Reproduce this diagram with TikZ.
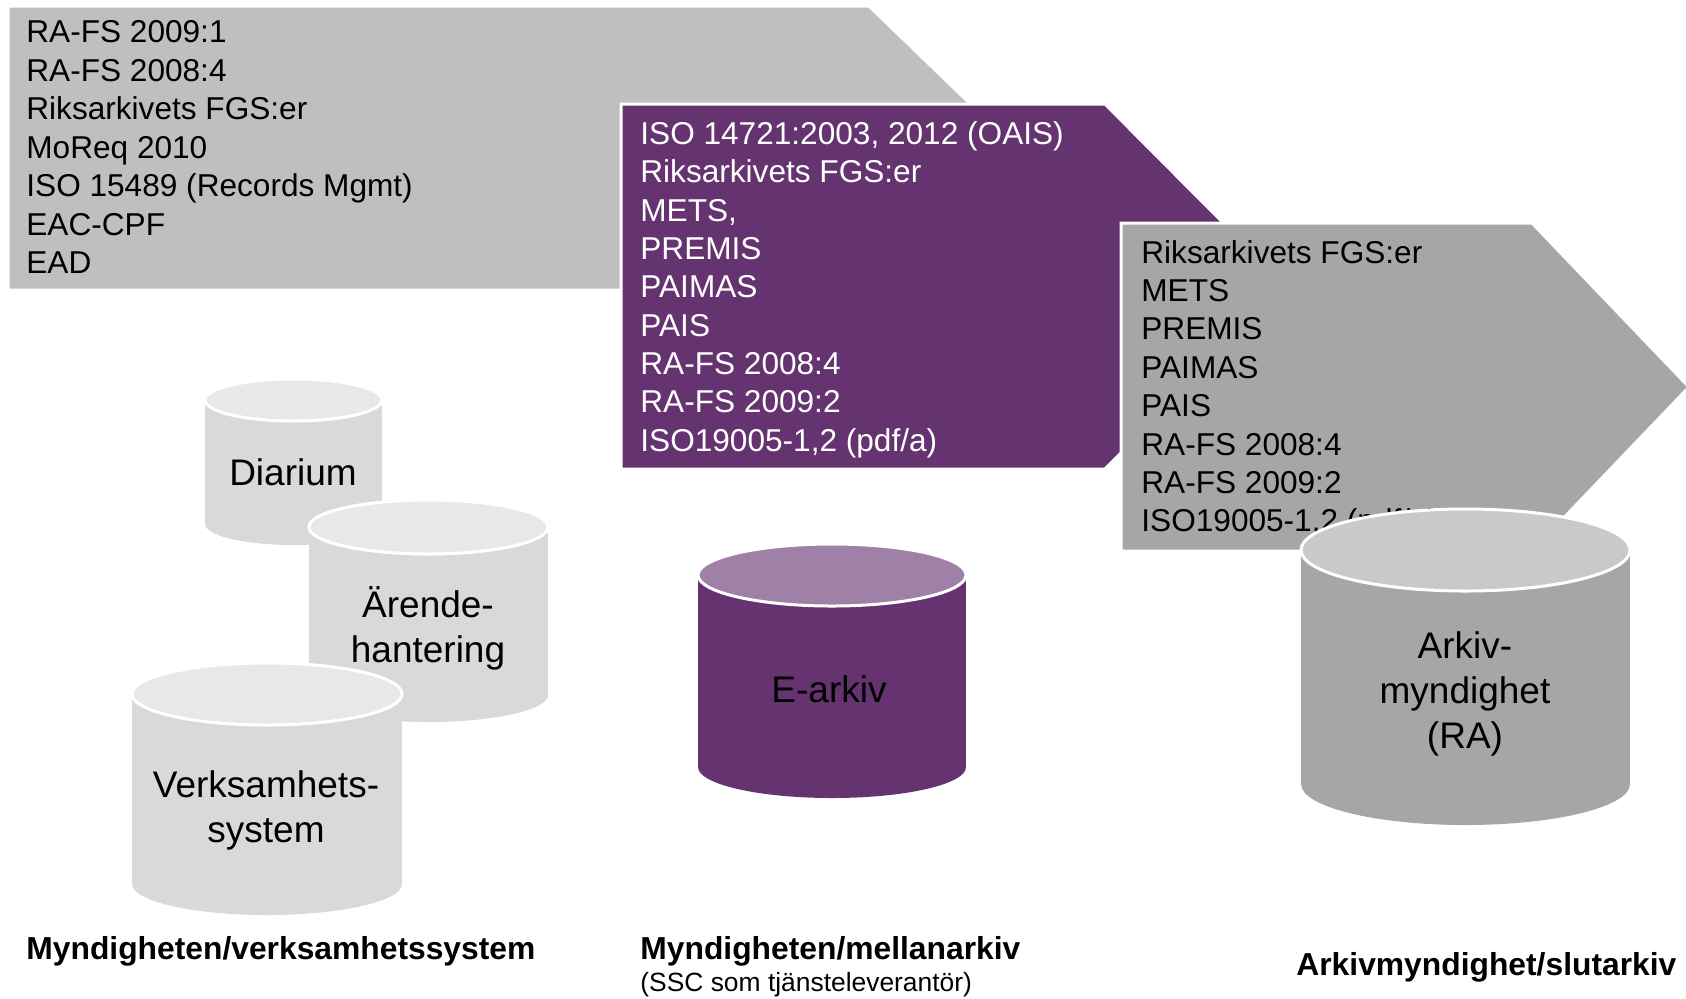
\documentclass[tikz,border=0pt]{standalone}
\usepackage{fontspec}
\setmainfont{Liberation Sans}
\definecolor{lgray}{RGB}{191,191,191}
\definecolor{dgray}{RGB}{166,166,166}
\definecolor{plum}{RGB}{101,51,111}
\definecolor{plumtop}{RGB}{159,128,167}
\definecolor{cylgray}{RGB}{217,217,217}
\definecolor{cyltop}{RGB}{232,232,232}
\definecolor{ratop}{RGB}{201,201,201}

\begin{document}
\begin{tikzpicture}[x=0.5pt, y=-0.5pt]
\tikzstyle{arr}=[draw=white, line width=1.5pt, line join=miter]
\tikzstyle{lst}=[anchor=base west, inner sep=0pt, font=\fontsize{15.8}{19}\selectfont]
\tikzstyle{cyl}=[inner sep=0pt, align=center, font=\fontsize{18.5}{22.5}\selectfont]
\tikzstyle{ttl}=[anchor=base west, inner sep=0pt, font=\fontsize{15.9}{19}\selectfont\bfseries]
\useasboundingbox (0,0) rectangle (1686,998);

% standards, step 1
\path[arr, fill=lgray] (8,6) -- (869,6) -- (1016,148) -- (869,290) -- (8,290) -- cycle;
\foreach \t [count=\i] in {RA-FS 2009:1, RA-FS 2008:4, Riksarkivets FGS:er, MoReq 2010,
    ISO 15489 (Records Mgmt), EAC-CPF, EAD}
  \node[lst] (a\i) at (26, 4+38.5*\i) {\t};

% standards, step 2
\path[arr, fill=plum] (621,104) -- (1105,104) -- (1287,287) -- (1105,469) -- (621,469) -- cycle;
\foreach \t [count=\i] in {{ISO 14721:2003, 2012 (OAIS)}, Riksarkivets FGS:er, {METS,}, PREMIS,
    PAIMAS, PAIS, RA-FS 2008:4, RA-FS 2009:2, {ISO19005-1,2 (pdf/a)}}
  \node[lst, text=white] (b\i) at (640, 106.3+38.3*\i) {\t};

% standards, step 3
\path[arr, fill=dgray] (1121,223) -- (1532,223) -- (1689,387) -- (1532,551) -- (1121,551) -- cycle;
\foreach \t [count=\i] in {Riksarkivets FGS:er, METS, PREMIS, PAIMAS, PAIS, RA-FS 2008:4,
    RA-FS 2009:2, {ISO19005-1,2 (pdf/a)}}
  \node[lst] (c\i) at (1141, 224.6+38.4*\i) {\t};

% databases
\foreach \cx/\rx/\ty/\by/\ry/\bc/\tc in {293.5/88.5/400/524/21/cylgray/cyltop,
    428.5/119.5/527/695/27/cylgray/cyltop, 267/135/694/884/31/cylgray/cyltop,
    832/134/575/767/31/plum/plumtop, 1465.5/164.5/550/784/41/dgray/ratop}{
  \fill[\bc] (\cx-\rx,\ty) rectangle (\cx+\rx,\by);
  \fill[\bc] (\cx,\by) ellipse [x radius=\rx, y radius=\ry];
  \filldraw[draw=white, line width=1.5pt, fill=\tc] (\cx,\ty) ellipse [x radius=\rx, y radius=\ry];
}
\node[cyl] (diarium) at (293,472) {Diarium};
\node[cyl] (arende) at (428,628) {Ärende-\\hantering};
\node[cyl] (verks) at (266,810) {Verksamhets-\\system};
\node[cyl] (earkiv) at (829,689) {E-arkiv};
\node[cyl] (ra) at (1465,694) {Arkiv-\\myndighet\\(RA)};

\node[ttl] (verkst) at (26,959) {Myndigheten/verksamhetssystem};
\node[ttl] (mellan) at (640,959) {Myndigheten/mellanarkiv};
\node[anchor=base west, inner sep=0pt, font=\fontsize{13.2}{16}\selectfont] (ssc) at (640,991) {(SSC som tjänsteleverantör)};
\node[ttl] (slut) at (1296,975) {Arkivmyndighet/slutarkiv};
\end{tikzpicture}
\end{document}
